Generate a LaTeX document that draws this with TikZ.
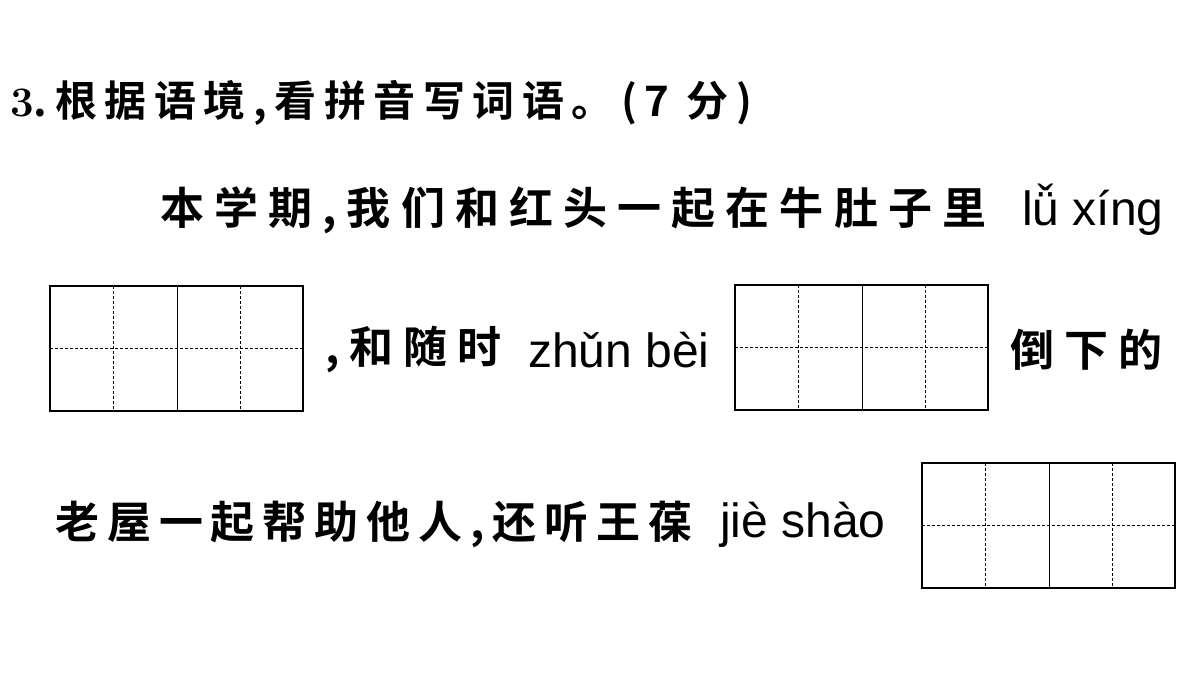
\documentclass[tikz,border=0pt]{standalone}
\usepackage{fontspec}
\newfontfamily\cjk[LetterSpace=23]{Noto Sans CJK SC Bold}
\newfontfamily\cjkb[LetterSpace=18]{Noto Sans CJK SC Bold}
\newfontfamily\cjkt[LetterSpace=18]{Noto Sans CJK SC Bold}
\newfontfamily\py{Liberation Sans}
\begin{document}
\begin{tikzpicture}[x=1pt,y=-1pt,
  txt/.style={anchor=west,inner sep=0pt,font=\cjk\fontsize{44}{44}\selectfont},
  txtb/.style={anchor=west,inner sep=0pt,font=\cjkb\fontsize{44}{44}\selectfont},
  pin/.style={anchor=west,inner sep=0pt,font=\py\fontsize{48}{48}\selectfont},
  grid/.style={draw,line width=1.6pt},
  dsh/.style={dashed,line width=0.8pt,dash pattern=on 3pt off 2pt}]
\useasboundingbox (0,0) rectangle (1200,675);
\node[anchor=west,inner sep=0pt,font=\cjkt\fontsize{42}{42}\selectfont] (t) at (10,103) {{\fontsize{42}{42}\selectfont\bfseries\rmfamily 3}.根据语境,看拼音写词语。(7 分)};
\node[txt] (l1) at (160,210) {本学期,我们和红头一起在牛肚子里};
\node[pin] (p1) at (1022,210) {lǚ xíng};
\node[txt] (l2) at (325,350) {,和随时};
\node[pin] (p2) at (528,350) {zhǔn bèi};
\node[txt] (l3) at (1010,350) {倒下的};
\node[txtb] (l4) at (55,525) {老屋一起帮助他人,还听王葆};
\node[pin] (p4) at (720,525) {jiè shào};
\foreach \n/\x/\y in {b1/50/286, b2/735/285, b3/922/463}{
  \coordinate (\n) at (\x,\y);
  \draw[dsh] (\n) ++(0,62) -- ++(253,0);
  \draw[dsh] (\n) ++(63,0) -- ++(0,125);
  \draw[dsh] (\n) ++(190,0) -- ++(0,125);
  \draw[line width=0.8pt] (\n) ++(127,0) -- ++(0,125);
  \draw[grid] (\n) rectangle ++(253,125);
}
\end{tikzpicture}
\end{document}
